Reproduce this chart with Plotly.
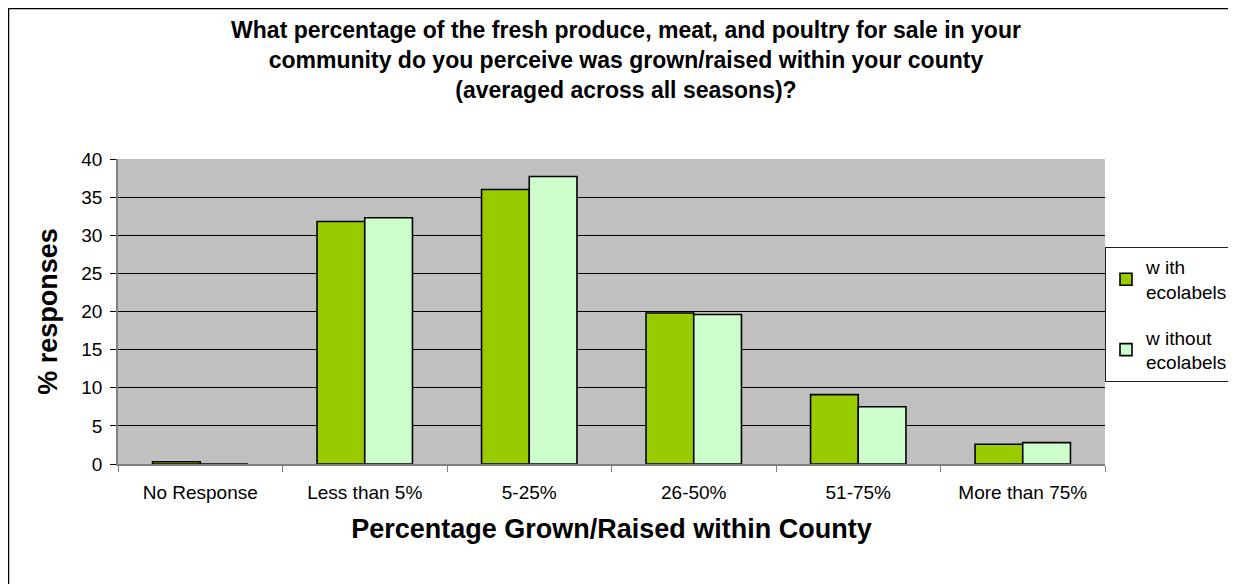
import plotly.graph_objects as go

# Data
categories = ['No Response', 'Less than 5%', '5-25%', '26-50%', '51-75%', 'More than 75%']
with_ecolabels = [0.3, 31.8, 36.0, 19.8, 9.1, 2.6]
without_ecolabels = [0.0, 32.3, 37.7, 19.6, 7.5, 2.8]
y_ticks = [0, 5, 10, 15, 20, 25, 30, 35, 40]

# page body has an 8px margin, so the figure is drawn 8px in from the window edge
W, H = 1228, 576
L, R, T, B = 110, 1097, 151, 456  # plot area in figure pixels
pw, ph = R - L, B - T

font_family = 'Arial, Liberation Sans, sans-serif'

fig = go.Figure()
fig.add_trace(go.Bar(
    x=categories, y=with_ecolabels, name='w ith<br>ecolabels', legendgroup='a',
    marker=dict(color='#99CC00', line=dict(color='black', width=1.6)),
))
fig.add_trace(go.Bar(
    x=categories, y=without_ecolabels, name='w ithout<br>ecolabels', legendgroup='b',
    marker=dict(color='#CCFFCC', line=dict(color='black', width=1.6)),
))

# Outer chart border (right and bottom fall outside the picture)
fig.add_shape(
    type='rect', xref='paper', yref='paper',
    x0=(0.5 - L) / pw, x1=(W + 10 - L) / pw,
    y0=(B - (H + 10)) / ph, y1=(B - 0.5) / ph,
    line=dict(color='black', width=1.5), fillcolor='rgba(0,0,0,0)', layer='below',
)

fig.update_layout(
    width=W, height=H,
    margin=dict(l=L, r=W - R, t=T, b=H - B, pad=0, autoexpand=False),
    paper_bgcolor='white',
    plot_bgcolor='#C0C0C0',
    font=dict(family=font_family, size=19, color='black'),
    barmode='group',
    bargap=0.42,
    bargroupgap=0,
    title=dict(
        text='What percentage of the fresh produce, meat, and poultry for sale in your<br>'
             'community do you perceive was grown/raised within your county<br>'
             '(averaged across all seasons)?',
        x=618 / W, xanchor='center', y=1 - 30 / H, yanchor='middle',
        font=dict(size=23, family=font_family, weight='bold'),
    ),
    legend=dict(
        x=1.0, xanchor='left', y=(B - 239) / ph, yanchor='top',
        bordercolor='#202020', borderwidth=1, bgcolor='white',
        font=dict(size=19), itemwidth=30, tracegroupgap=18,
    ),
    xaxis=dict(
        title=dict(text='Percentage Grown/Raised within County',
                   font=dict(size=27, weight='bold'), standoff=18),
        tickson='boundaries', ticks='outside', ticklen=6, tickcolor='#808080',
        ticklabelstandoff=10,
        showline=True, linecolor='#808080', linewidth=1.5,
        showgrid=False,
    ),
    yaxis=dict(
        title=dict(text='% responses', font=dict(size=27, weight='bold'), standoff=16),
        range=[0, 40], tickvals=y_ticks,
        ticks='outside', ticklen=6, tickcolor='black', ticklabelstandoff=4,
        showline=True, linecolor='#808080', linewidth=1.5,
        gridcolor='black', gridwidth=1, zeroline=False,
    ),
)

fig.write_html('out.html')
